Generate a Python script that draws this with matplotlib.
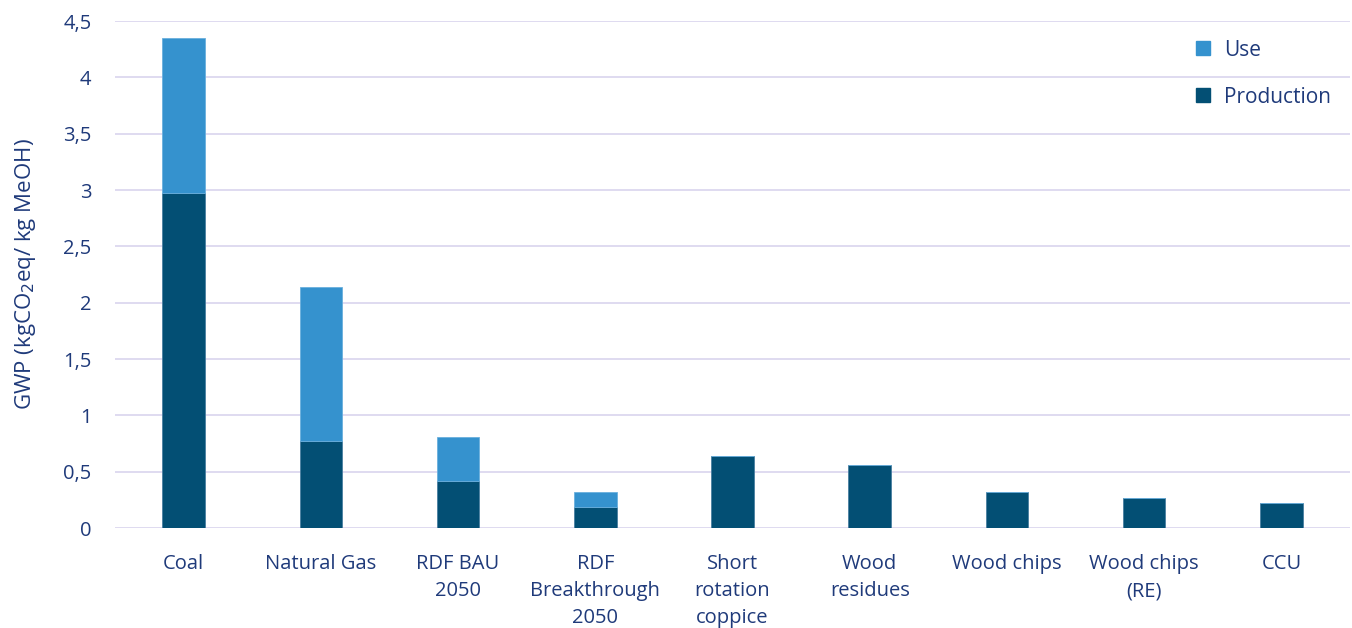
import matplotlib.pyplot as plt
import numpy as np
from matplotlib.lines import Line2D

categories = ['Coal', 'Natural Gas', 'RDF BAU\n2050', 'RDF\nBreakthrough\n2050',
              'Short\nrotation\ncoppice', 'Wood\nresidues', 'Wood chips', 'Wood chips\n(RE)', 'CCU']
production = [2.97, 0.77, 0.42, 0.19, 0.64, 0.56, 0.32, 0.27, 0.22]
use = [1.38, 1.37, 0.39, 0.13, 0, 0, 0, 0, 0]
yticks = [0, 0.5, 1, 1.5, 2, 2.5, 3, 3.5, 4, 4.5]

c_prod = '#034F74'
c_use = '#3592CE'
txt = '#1F3A7A'

plt.rcParams['font.family'] = ['Open Sans', 'DejaVu Sans']

fig = plt.figure(figsize=(13.52, 6.28), dpi=100)
ax = fig.add_axes([115 / 1352, 1 - 528 / 628, 1235 / 1352, 507 / 628])

x = np.arange(len(categories))
ax.bar(x, production, width=0.31, color=c_prod, edgecolor='#4A7FA0', linewidth=0.6, zorder=3)
ax.bar(x, use, width=0.31, bottom=production, color=c_use, edgecolor='#6AB0DD', linewidth=0.6, zorder=3)

ax.set_xlim(-0.5, len(categories) - 0.5)
ax.set_ylim(0, 4.5)
ax.set_yticks(yticks)
ax.set_yticklabels([('%g' % v).replace('.', ',') for v in yticks])
ax.set_xticks(x)
ax.set_xticklabels(categories, linespacing=1.45)
ax.tick_params(axis='both', length=0, colors=txt, labelsize=14.5)
ax.tick_params(axis='y', pad=17)
ax.tick_params(axis='x', pad=19)
ax.grid(axis='y', color='#D9D4EE', linewidth=1.2, zorder=0)
for s in ax.spines.values():
    s.set_visible(False)

ax.set_ylabel('GWP (kgCO$_2$eq/ kg MeOH)', color=txt, fontsize=16, labelpad=18)

handles = [Line2D([], [], marker='s', linestyle='none', markersize=10, color=c_use),
           Line2D([], [], marker='s', linestyle='none', markersize=10, color=c_prod)]
leg = ax.legend(handles, ['Use', 'Production'], loc='upper right', bbox_to_anchor=(1.0, 1.0),
                frameon=False, labelspacing=1.25, handletextpad=0.0, fontsize=15)
for t in leg.get_texts():
    t.set_color(txt)

fig.savefig('out.png', dpi=100)
